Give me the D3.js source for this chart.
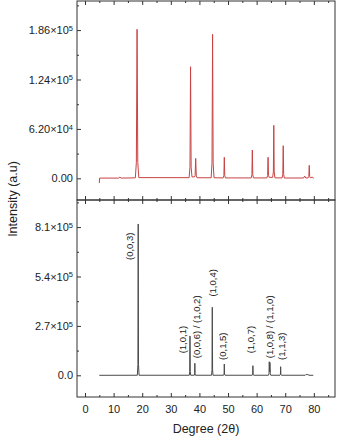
<!DOCTYPE html>
<html>
<head>
<meta charset="utf-8">
<script src="https://cdn.jsdelivr.net/npm/d3@7"></script>
<style>
body { margin: 0; background: #fff; }
svg { display: block; font-family: "Liberation Sans", Arial, sans-serif; }
</style>
</head>
<body>
<svg></svg>
<script>
var WIDTH = 338;
var HEIGHT = 441;

// top pattern (red), [degree, intensity]
var redPattern = [
    [5.0, -6000], [5.1, 300], [11.8, 300], [12.2, 1600], [12.6, 300],
    [17.6, 600], [17.95, 20000], [18.2, 187000], [18.45, 20000], [18.8, 900],
    [36.4, 800], [36.7, 14000], [36.9, 140000], [37.1, 14000], [37.4, 1800],
    [38.3, 1800], [38.5, 3500], [38.7, 25000], [38.9, 3000], [39.2, 700],
    [44.1, 700], [44.4, 19000], [44.6, 180700], [44.8, 19000], [45.1, 700],
    [48.3, 500], [48.55, 3500], [48.7, 26400], [48.85, 3500], [49.1, 500],
    [58.1, 500], [58.35, 4500], [58.5, 35500], [58.65, 4500], [58.9, 500],
    [63.6, 500], [63.85, 3500], [64.0, 26400], [64.15, 3500], [64.4, 1200],
    [65.6, 1200], [65.85, 8000], [66.0, 66500], [66.15, 8000], [66.4, 600],
    [68.9, 500], [69.15, 5000], [69.3, 40900], [69.45, 5000], [69.7, 400],
    [76.4, 400], [76.8, 2800], [77.2, 400], [78.0, 600], [78.25, 2500],
    [78.4, 16300], [78.55, 2500], [78.8, 600], [79.4, 1500], [80.0, 200]
];

// bottom pattern (gray), [degree, intensity]
var grayPattern = [
    [5.0, 0], [18.3, 300], [18.5, 60000], [18.6, 827000], [18.7, 60000], [18.9, 300],
    [36.45, 300], [36.6, 20000], [36.7, 215000], [36.8, 20000], [36.95, 300],
    [38.2, 300], [38.33, 8000], [38.4, 65600], [38.48, 8000], [38.6, 300],
    [44.25, 300], [44.4, 30000], [44.5, 372000], [44.6, 30000], [44.75, 300],
    [48.45, 300], [48.62, 7000], [48.7, 61800], [48.78, 7000], [48.95, 300],
    [58.45, 300], [58.62, 6000], [58.7, 52500], [58.78, 6000], [58.95, 300],
    [64.15, 300], [64.32, 8000], [64.42, 74000], [64.55, 20000], [64.65, 70000], [64.78, 8000], [64.95, 300],
    [68.15, 300], [68.32, 5000], [68.4, 47000], [68.48, 5000], [68.65, 300],
    [77.0, 300], [77.3, 5000], [77.6, 3000], [77.9, 4500], [78.3, 300], [79.8, 0]
];

// peak labels for the bottom panel
var peakNames = ['(0,0,3)', '(1,0,1)', '(0,0,6) / (1,0,2)', '(1,0,4)', '(0,1,5)', '(1,0,7)', '(1,0,8) / (1,1,0)', '(1,1,3)'];
var peakLabelDeg = [15.5, 34.1, 39.2, 44.5, 48.1, 57.9, 64.6, 68.7];
var peakLabelInt = [630000, 120000, 93000, 430000, 84000, 120000, 93000, 84000];

// ticks
var xMajor = [0, 10, 20, 30, 40, 50, 60, 70, 80];
var xMinor = [5, 15, 25, 35, 45, 55, 65, 75, 85];
var topTicks = [0, 62000, 124000, 186000];
var topTickMant = ['0.00', '6.20', '1.24', '1.86'];
var topTickExp = [null, '4', '5', '5'];
var topMinor = [31000, 93000, 155000, 217000];
var botTicks = [0, 270000, 540000, 810000];
var botTickMant = ['0.0', '2.7', '5.4', '8.1'];
var botTickExp = [null, '5', '5', '5'];
var botMinor = [135000, 405000, 675000, 945000];

var LEFT = 77, RIGHT = 335;
var TOP1 = 1, MID = 200, BOT2 = 397;
var AXIS = '#333';

var svg = d3.select('svg')
    .attr('width', WIDTH)
    .attr('height', HEIGHT);

var xScale = d3.scaleLinear().domain([-2.8, 87.4]).range([LEFT, RIGHT]);
var yTop = d3.scaleLinear().domain([-27200, 222500]).range([MID, TOP1]);
var yBot = d3.scaleLinear().domain([-118600, 958000]).range([BOT2, MID]);

// patterns
var lineTop = d3.line()
    .x(function(d){ return xScale(d[0]); })
    .y(function(d){ return yTop(d[1]); });
var lineBot = d3.line()
    .x(function(d){ return xScale(d[0]); })
    .y(function(d){ return yBot(d[1]); });

svg.append('path')
    .datum(redPattern)
    .attr('d', lineTop)
    .attr('fill', 'none')
    .attr('stroke', '#c94343')
    .attr('stroke-width', 1);

svg.append('path')
    .datum(grayPattern)
    .attr('d', lineBot)
    .attr('fill', 'none')
    .attr('stroke', '#4a4a4a')
    .attr('stroke-width', 1);

// peak labels
svg.append('g').selectAll('text')
    .data(peakNames)
    .enter()
    .append('text')
    .attr('transform', function(d, i){
        return 'translate(' + xScale(peakLabelDeg[i]) + ',' + yBot(peakLabelInt[i]) + ') rotate(-90)';
    })
    .attr('dy', '0.35em')
    .attr('font-size', '9.5px')
    .attr('fill', '#222')
    .text(function(d){ return d; });

// frames
[[TOP1, MID], [MID, BOT2]].forEach(function(p){
    svg.append('rect')
        .attr('x', LEFT)
        .attr('y', p[0])
        .attr('width', RIGHT - LEFT)
        .attr('height', p[1] - p[0])
        .attr('fill', 'none')
        .attr('stroke', AXIS)
        .attr('stroke-width', 1);
});

var styleAxis = function(g){
    g.select('.domain').remove();
    g.selectAll('line').attr('stroke', AXIS);
    g.selectAll('text').attr('fill', '#222').style('font-size', '11px').style('font-family', '"Liberation Sans", Arial, sans-serif');
};

var xTickRow = function(axisFn, y, size, vals, labels){
    var ax = axisFn(xScale).tickValues(vals).tickSize(size).tickPadding(8);
    if (!labels) ax.tickFormat('');
    svg.append('g')
        .attr('transform', 'translate(0,' + y + ')')
        .call(ax)
        .call(styleAxis);
};

// x ticks on every horizontal edge, pointing inward
xTickRow(d3.axisTop, TOP1, -4, xMajor, false);
xTickRow(d3.axisTop, TOP1, -2, xMinor, false);
xTickRow(d3.axisBottom, MID, -4, xMajor, false);
xTickRow(d3.axisBottom, MID, -2, xMinor, false);
xTickRow(d3.axisTop, MID, -4, xMajor, false);
xTickRow(d3.axisTop, MID, -2, xMinor, false);
xTickRow(d3.axisBottom, BOT2, -4, xMajor, true);
xTickRow(d3.axisBottom, BOT2, -2, xMinor, false);

var yTickCol = function(scale, vals, mant, exps, minor){
    svg.append('g')
        .attr('transform', 'translate(' + LEFT + ',0)')
        .call(d3.axisLeft(scale).tickValues(vals).tickSize(-4).tickPadding(4))
        .call(styleAxis)
        .call(function(g){
            g.selectAll('text').each(function(d, i){
                var t = d3.select(this).text(null);
                if (exps[i]) {
                    t.append('tspan').text(mant[i] + '\u00d710');
                    t.append('tspan').attr('dy', '-0.45em').style('font-size', '7.5px').text(exps[i]);
                } else {
                    t.append('tspan').text(mant[i]);
                }
            });
        });
    svg.append('g')
        .attr('transform', 'translate(' + LEFT + ',0)')
        .call(d3.axisLeft(scale).tickValues(minor).tickSize(-2).tickFormat(''))
        .call(styleAxis);
};

yTickCol(yTop, topTicks, topTickMant, topTickExp, topMinor);
yTickCol(yBot, botTicks, botTickMant, botTickExp, botMinor);

// axis titles
svg.append('text')
    .attr('x', (LEFT + RIGHT) / 2)
    .attr('y', 433)
    .attr('text-anchor', 'middle')
    .attr('font-size', '12.5px')
    .attr('fill', '#222')
    .text('Degree (2\u03b8)');

svg.append('text')
    .attr('transform', 'translate(17,' + (TOP1 + BOT2) / 2 + ') rotate(-90)')
    .attr('text-anchor', 'middle')
    .attr('font-size', '12.5px')
    .attr('fill', '#222')
    .text('Intensity (a.u)');
</script>
</body>
</html>
